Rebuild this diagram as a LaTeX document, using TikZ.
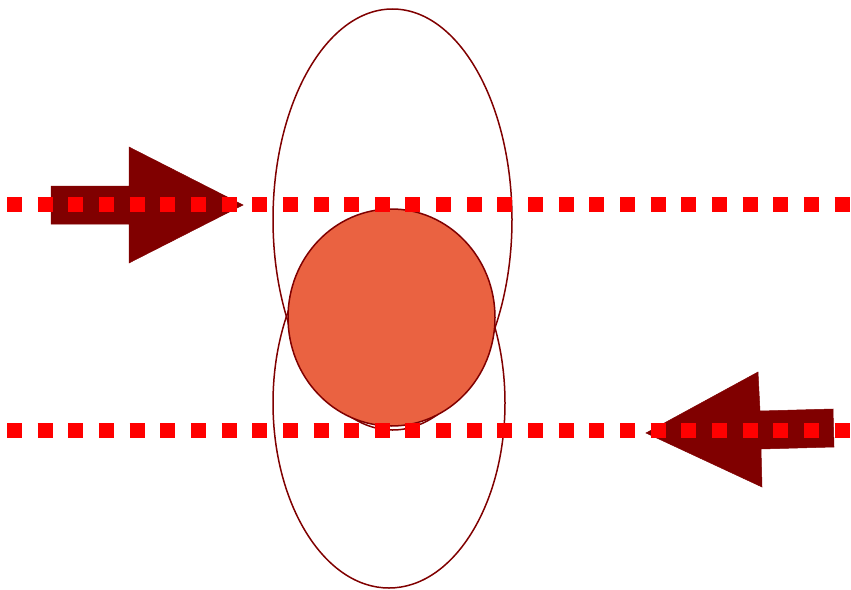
\documentclass[tikz,border=0pt]{standalone}
\begin{document}
\begin{tikzpicture}[x=1pt,y=-1pt]
\definecolor{maroon}{RGB}{128,0,0}
\definecolor{tomato}{RGB}{234,98,65}
\tikzset{
  orbit/.style={draw=maroon,line width=1.5pt},
  ball/.style={draw=maroon,line width=1.5pt,fill=tomato},
  bigarrow/.style={fill=maroon,draw=maroon,line width=0.5pt,line join=miter},
  beam/.style={draw=red,line width=15pt,line cap=butt,dash pattern=on 15pt off 15.65pt}
}
\useasboundingbox (0,0) rectangle (851,589);
% ellipses
\draw[orbit] (392.5,219.5) ellipse [x radius=119.5, y radius=210.5];
\draw[orbit] (389,403) ellipse [x radius=116, y radius=185];
% circle
\draw[ball] (391.5,317.5) ellipse [x radius=103.5, y radius=108.5];
% arrows
\fill[bigarrow] (51,186) -- (129,186) -- (129,147) -- (243,205) -- (129,263) -- (129,224) -- (51,224) -- cycle;
\fill[bigarrow] (833,409) -- (760,411) -- (758,372) -- (646,433) -- (762,487) -- (761,449) -- (834,447) -- cycle;
% dotted beams
\coordinate (a1) at (7,204.5);
\coordinate (a2) at (851,204.5);
\coordinate (b1) at (7,430.5);
\coordinate (b2) at (851,430.5);
\draw[beam] (a1) -- (a2);
\draw[beam] (b1) -- (b2);
\end{tikzpicture}
\end{document}
